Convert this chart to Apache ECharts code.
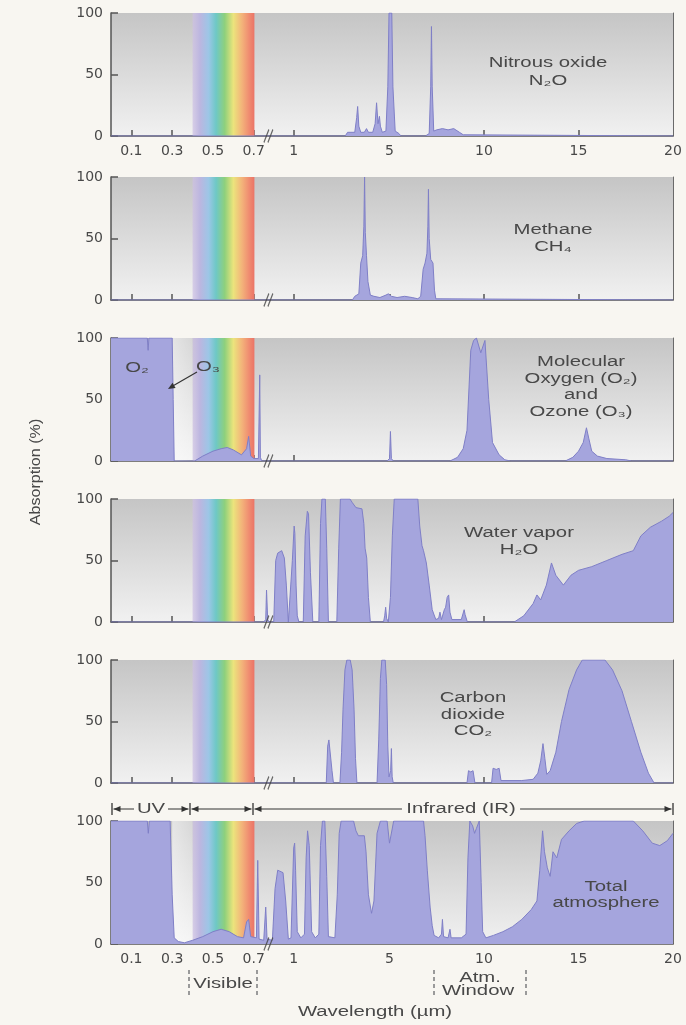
<!DOCTYPE html>
<html><head><meta charset="utf-8">
<script src="https://cdn.jsdelivr.net/npm/echarts@6/dist/echarts.min.js"></script>
<style>html,body{margin:0;padding:0;background:#f8f6f1;}#c{width:686px;height:1025px;}</style>
</head><body><div id="c"></div>
<script>
// ---- data: [wavelength (µm), absorption (%)] ----
const n2o = [[0,0],[3.15,0],[3.25,3],[3.55,3],[3.63,15],[3.67,24],[3.72,8],[3.8,3],[3.95,3],[4.04,6],[4.12,3],[4.3,3],[4.4,10],[4.46,27],[4.52,10],[4.58,16],[4.62,8],[4.7,3],[4.85,4],[4.93,40],[4.98,100],[5.12,100],[5.18,40],[5.3,4],[5.5,2],[5.6,0],[6.9,0],[7.1,2],[7.18,40],[7.22,89],[7.26,40],[7.34,4],[7.5,5],[7.8,6],[8.1,5],[8.4,6],[8.7,3],[8.9,1],[9.0,0],[20,0]];
const ch4 = [[0,0],[3.45,0],[3.55,3],[3.72,5],[3.8,30],[3.88,36],[3.93,60],[3.96,100],[3.99,55],[4.04,36],[4.1,15],[4.2,4],[4.35,3],[4.6,2],[4.85,4],[4.95,5],[5.1,3],[5.4,2],[5.8,3],[6.2,2],[6.5,1],[6.65,3],[6.78,25],[6.88,30],[6.98,38],[7.03,60],[7.06,90],[7.1,50],[7.18,33],[7.3,30],[7.38,8],[7.45,1],[7.5,0],[20,0]];
const o2o3 = [[0,100],[0.178,100],[0.182,90],[0.186,100],[0.3,100],[0.305,50],[0.31,0],[0.41,0],[0.45,4],[0.5,8],[0.54,10],[0.57,11],[0.6,9],[0.64,5],[0.665,10],[0.675,20],[0.685,4],[0.7,2],[0.735,2],[0.745,70],[0.75,3],[0.76,0],[4.9,0],[5.0,2],[5.05,24],[5.1,2],[5.2,0],[8.2,0],[8.6,3],[8.9,10],[9.1,25],[9.3,90],[9.45,98],[9.6,100],[9.83,88],[10.05,98],[10.15,97],[10.25,50],[10.45,15],[10.8,5],[11.1,1],[11.4,0],[14.3,0],[14.7,3],[15.0,8],[15.25,15],[15.42,27],[15.55,18],[15.7,8],[16.0,4],[16.5,2],[17.5,1],[17.8,0],[20,0]];
const water = [[0,0],[0.775,0],[0.79,2],[0.796,26],[0.805,2],[0.815,0],[0.85,0],[0.865,50],[0.88,56],[0.91,58],[0.93,52],[0.945,30],[0.96,0],[0.975,0],[0.99,50],[1.02,78],[1.05,72],[1.1,30],[1.15,5],[1.22,0],[1.4,0],[1.48,70],[1.57,90],[1.62,88],[1.7,40],[1.8,0],[2.05,0],[2.12,80],[2.18,100],[2.32,100],[2.38,60],[2.45,0],[2.8,0],[2.88,60],[2.95,100],[3.35,100],[3.45,97],[3.6,93],[3.85,92],[3.93,80],[3.98,60],[4.05,52],[4.12,20],[4.2,0],[4.75,0],[4.8,5],[4.84,12],[4.88,3],[4.95,0],[5.05,20],[5.15,70],[5.25,100],[6.5,100],[6.6,78],[6.72,62],[6.8,58],[6.95,48],[7.1,30],[7.26,10],[7.45,2],[7.6,3],[7.67,8],[7.75,2],[7.9,10],[7.97,12],[8.05,20],[8.13,22],[8.2,8],[8.3,2],[8.8,2],[8.95,10],[9.0,6],[9.12,0],[11.6,0],[12.1,5],[12.6,15],[12.8,22],[13.0,18],[13.3,30],[13.57,48],[13.8,38],[14.2,30],[14.6,38],[15.0,42],[15.7,45],[16.5,50],[17.3,55],[17.9,58],[18.3,70],[18.8,77],[19.4,82],[19.8,86],[20,89]];
const co2 = [[0,0],[2.36,0],[2.42,30],[2.47,35],[2.55,34],[2.6,10],[2.66,0],[2.93,0],[3.0,25],[3.06,60],[3.14,92],[3.22,100],[3.36,100],[3.44,92],[3.52,60],[3.58,20],[3.64,0],[4.48,0],[4.55,35],[4.62,85],[4.68,100],[4.82,100],[4.88,80],[4.93,30],[4.98,5],[5.06,10],[5.1,28],[5.14,5],[5.2,0],[9.1,0],[9.18,10],[9.3,9],[9.42,10],[9.52,0],[10.4,0],[10.48,12],[10.65,11],[10.8,12],[10.9,2],[12.0,2],[12.6,3],[12.85,8],[13.0,18],[13.12,32],[13.22,20],[13.32,7],[13.5,10],[13.8,25],[14.1,50],[14.5,76],[14.9,92],[15.2,100],[16.4,100],[16.8,92],[17.3,75],[17.8,50],[18.3,25],[18.7,8],[19.0,0],[20,0]];
const total = [[0,100],[0.178,100],[0.183,90],[0.188,100],[0.29,100],[0.3,40],[0.31,5],[0.33,2],[0.36,1],[0.4,3],[0.45,6],[0.5,10],[0.54,12],[0.58,10],[0.62,6],[0.65,5],[0.665,18],[0.675,20],[0.685,6],[0.72,5],[0.73,68],[0.74,4],[0.775,3],[0.79,30],[0.8,4],[0.84,3],[0.86,45],[0.88,60],[0.92,58],[0.94,35],[0.96,4],[0.98,5],[1.0,78],[1.04,82],[1.08,60],[1.15,10],[1.3,5],[1.45,8],[1.52,70],[1.58,92],[1.65,80],[1.75,10],[1.9,5],[2.05,8],[2.12,80],[2.2,100],[2.3,100],[2.38,55],[2.45,6],[2.72,5],[2.82,40],[2.9,90],[2.98,100],[3.5,100],[3.6,92],[3.7,88],[3.95,88],[4.02,75],[4.12,40],[4.25,25],[4.35,35],[4.48,90],[4.62,100],[4.9,100],[5.0,82],[5.1,82],[5.22,100],[6.8,100],[6.88,88],[7.0,60],[7.15,30],[7.26,15],[7.36,7],[7.6,5],[7.75,8],[7.8,20],[7.86,6],[8.1,5],[8.2,12],[8.26,5],[8.8,5],[9.05,8],[9.15,70],[9.25,100],[9.4,96],[9.5,90],[9.6,94],[9.75,100],[9.85,50],[9.93,10],[10.1,5],[10.5,7],[11.0,10],[11.5,14],[12.0,20],[12.5,28],[12.8,35],[12.95,60],[13.1,92],[13.2,75],[13.35,62],[13.5,55],[13.65,75],[13.85,70],[14.1,85],[14.5,92],[14.9,98],[15.3,100],[17.9,100],[18.4,92],[18.9,82],[19.3,80],[19.7,84],[20,90]];

const panelNames = ['Nitrous oxide','Methane','Molecular Oxygen and Ozone','Water vapor','Carbon dioxide','Total atmosphere'];
const panelData = [n2o, ch4, o2o3, water, co2, total];
const panelText = [
  ['Nitrous oxide','N₂O'],
  ['Methane','CH₄'],
  ['Molecular','Oxygen (O₂)','and','Ozone (O₃)'],
  ['Water vapor','H₂O'],
  ['Carbon','dioxide','CO₂'],
  ['Total','atmosphere']
];
const tickWl = [0.1,0.3,0.5,0.7,1,5,10,15,20];
const tickLabels = ['0.1','0.3','0.5','0.7','1','5','10','15','20'];
const visibleBand = [0.4, 0.705];
const breakWl = 0.81;

// ---- broken wavelength scale (piecewise linear) ----
const scaleWl = [0,0.7,1,5,20];
const scaleUnits = [0,143,183,279,563];
function toUnit(w){
  for(let i=1;i<scaleWl.length;i++){
    if(w<=scaleWl[i] || i===scaleWl.length-1){
      const t=(w-scaleWl[i-1])/(scaleWl[i]-scaleWl[i-1]);
      return scaleUnits[i-1]+t*(scaleUnits[i]-scaleUnits[i-1]);
    }
  }
}
function labelFor(v){
  const i = tickWl.findIndex(w=>Math.abs(toUnit(w)-v)<0.01);
  return i>=0 ? tickLabels[i] : '';
}

const BG = '#f8f6f1';
const TXT = '#484848';
const AX = '#555';
const tops = [13,177,338,499,660,821];
const GH = 123;
const LEFT = 111, WIDTH = 562;

const rainbow = {type:'linear',x:0,y:0,x2:1,y2:0,colorStops:[
  {offset:0,color:'rgba(205,192,228,0.7)'},{offset:0.12,color:'#bcb6e0'},{offset:0.26,color:'#9cc6e6'},
  {offset:0.38,color:'#6ec8c6'},{offset:0.52,color:'#8ed07c'},{offset:0.66,color:'#ebe47c'},
  {offset:0.8,color:'#f3b37a'},{offset:0.92,color:'#ef8a70'},{offset:1,color:'#eb7466'}]};
const panelBg = {type:'linear',x:0,y:0,x2:0,y2:1,colorStops:[
  {offset:0,color:'#c5c5c5'},{offset:0.5,color:'#dbdbdb'},{offset:1,color:'#f1f1f1'}]};
const uvGap = {type:'linear',x:0,y:0,x2:1,y2:0,colorStops:[
  {offset:0,color:'rgba(255,255,255,0.55)'},{offset:1,color:'rgba(255,255,255,0.3)'}]};

const grid=[], xAxis=[], yAxis=[], series=[];
panelData.forEach((d,i)=>{
  grid.push({left:LEFT,width:WIDTH,top:tops[i],height:GH,show:true,borderWidth:0,backgroundColor:panelBg});
  const showLab = (i===0||i===5);
  xAxis.push({gridIndex:i,type:'value',min:0,max:scaleUnits[scaleUnits.length-1],
    axisLine:{show:true,onZero:false,lineStyle:{color:AX,width:1.5}},
    axisTick:{show:true,inside:true,length:6,customValues:tickWl.slice(0,8).map(toUnit),lineStyle:{color:AX,width:1.5}},
    axisLabel:{show:showLab,customValues:tickWl.map(toUnit),formatter:labelFor,color:TXT,fontSize:14,fontFamily:'DejaVu Sans',margin:8},
    splitLine:{show:false}});
  yAxis.push({gridIndex:i,type:'value',min:0,max:100,interval:50,
    axisLine:{show:true,lineStyle:{color:AX,width:1.5}},
    axisTick:{show:true,inside:true,length:7,lineStyle:{color:AX,width:1.5}},
    axisLabel:{color:TXT,fontSize:14,fontFamily:'DejaVu Sans',margin:8},
    splitLine:{show:false}});
  yAxis.push({gridIndex:i,type:'value',min:0,max:100,position:'right',
    axisLine:{show:true,lineStyle:{color:'#6a6a6a',width:1}},axisTick:{show:false},axisLabel:{show:false},splitLine:{show:false}});
  const areas = [[{xAxis:toUnit(visibleBand[0]),itemStyle:{color:rainbow}},{xAxis:toUnit(visibleBand[1])}]];
  if(i===2||i===5) areas.push([{xAxis:toUnit(0.3),itemStyle:{color:uvGap}},{xAxis:toUnit(visibleBand[0])}]);
  series.push({type:'line',name:panelNames[i],xAxisIndex:i,yAxisIndex:2*i,
    data:d.map(p=>[toUnit(p[0]),p[1]]),showSymbol:false,symbol:'none',silent:true,
    lineStyle:{color:'#7f7fc6',width:1},areaStyle:{color:'#a5a5dd',opacity:1},z:3,
    markArea:{silent:true,label:{show:false},data:areas}});
  series.push({type:'scatter',xAxisIndex:i,yAxisIndex:2*i,data:[[toUnit(breakWl),0]],silent:true,
    symbol:'path://M0,14 L5,0 M4,14 L9,0',symbolSize:[9,13],
    itemStyle:{color:'rgba(0,0,0,0)',borderColor:'#444',borderWidth:1.3},z:10});
});

// ---- annotations ----
const FONT = '14px "Liberation Sans", Arial, sans-serif';
const SX = 1.45;
function txt(s,x,y,opt){
  opt=opt||{};
  return {type:'text',x:x,y:y,scaleX:opt.sx||SX,rotation:opt.rot||0,z:50,silent:true,
    style:Object.assign({text:s,font:opt.font||FONT,fill:TXT,align:'center',verticalAlign:'middle',textAlign:'center',textVerticalAlign:'middle'},opt.style||{})};
}
function line(x1,y1,x2,y2,st){
  return {type:'line',z:50,silent:true,shape:{x1:x1,y1:y1,x2:x2,y2:y2},style:Object.assign({stroke:'#333',lineWidth:1},st||{})};
}
function head(tx,ty,fx,fy,len,hw){
  const dx=tx-fx, dy=ty-fy, L=Math.sqrt(dx*dx+dy*dy), ux=dx/L, uy=dy/L;
  const bx=tx-ux*len, by=ty-uy*len;
  return {type:'polygon',z:51,silent:true,shape:{points:[[tx,ty],[bx-uy*hw,by+ux*hw],[bx+uy*hw,by-ux*hw]]},style:{fill:'#333'}};
}
const g=[];
// panel labels
const labelPos = [[548,[63,81]],[553,[230,247]],[581,[362,379,395,412]],[519,[533,550]],[473,[698,715,731]],[606,[887,903]]];
labelPos.forEach((lp,i)=>{ panelText[i].forEach((s,k)=>g.push(txt(s,lp[0],lp[1][k]))); });
// O2 / O3 labels and arrow
g.push(txt('O₂',137,368));
g.push(txt('O₃',208,367));
g.push(line(197,372,171,387,{lineWidth:1.2}));
g.push(head(168,389,197,372,7,3));
// y-axis title
g.push(txt('Absorption (%)',36,472,{rot:Math.PI/2,sx:1.15}));
// UV / Visible / IR range arrows
const ay=809, bars=[112,190,253,673];
bars.forEach(b=>g.push(line(b,803,b,815,{lineWidth:1.3})));
for(let k=0;k<3;k++){
  const a=bars[k]+1.5, b=bars[k+1]-1.5;
  g.push(line(a,ay,b,ay));
  g.push(head(a,ay,b,ay,7,3));
  g.push(head(b,ay,a,ay,7,3));
}
g.push(txt('UV',151,ay,{style:{backgroundColor:BG,padding:[0,2]}}));
g.push(txt('Infrared (IR)',461,ay,{style:{backgroundColor:BG,padding:[0,3]}}));
// Visible / Atm. Window brackets
[189,257,434,526].forEach(x=>g.push(line(x,970,x,998,{stroke:'#9a9a9a',lineWidth:2,lineDash:[4,3]})));
g.push(txt('Visible',223,984));
g.push(txt('Atm.',480,978));
g.push(txt('Window',478,991));
g.push(txt('Wavelength (µm)',375,1012));

const chart = echarts.init(document.getElementById('c'),null,{renderer:'canvas'});
chart.setOption({backgroundColor:BG,animation:false,grid:grid,xAxis:xAxis,yAxis:yAxis,series:series,graphic:g});
</script></body></html>
